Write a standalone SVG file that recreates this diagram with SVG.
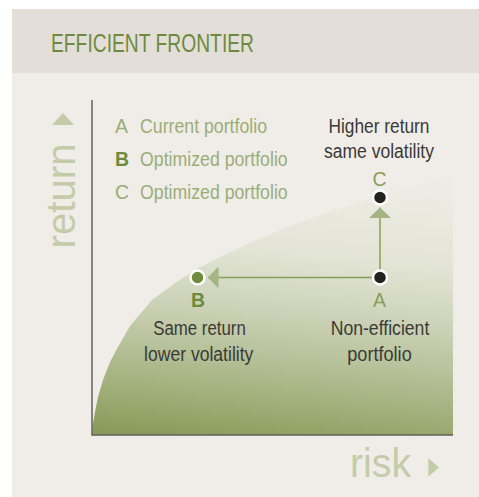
<svg xmlns="http://www.w3.org/2000/svg" width="479" height="497" viewBox="0 0 479 497">
  <style>
    .t { font-family: "Liberation Sans", Arial, sans-serif; }
    .head { font-size: 25.5px; fill: #6e8a3e; }
    .leg { font-size: 19.5px; fill: #9aad77; }
    .legb { font-size: 19.5px; fill: #6e8b3d; font-weight: bold; }
    .dark { font-size: 19.5px; fill: #3a3a36; text-anchor: middle; }
    .lab { font-size: 19.5px; fill: #87a059; text-anchor: middle; }
    .labb { font-size: 19.5px; fill: #6e8b3d; font-weight: bold; text-anchor: middle; }
    .axislab { font-size: 41px; fill: #c3cca8; }
    .axis { stroke: #5f6256; stroke-width: 1.5; fill: none; }
    .conn { stroke: #84a056; stroke-width: 1.5; fill: none; marker-end: url(#arrow); }
    .dot { stroke: #ffffff; stroke-width: 2.5; }
  </style>
  <defs>
    <linearGradient id="fill" gradientUnits="userSpaceOnUse" x1="210" y1="440" x2="235" y2="175">
      <stop offset="0" stop-color="#889c5b"/>
      <stop offset="0.15" stop-color="#9fae78"/>
      <stop offset="0.34" stop-color="#b8c29b"/>
      <stop offset="0.53" stop-color="#cfd5bc"/>
      <stop offset="0.72" stop-color="#e2e4d4"/>
      <stop offset="1" stop-color="#edece4"/>
    </linearGradient>
    <marker id="arrow" viewBox="0 0 10.5 22" refX="10.5" refY="11" markerWidth="10.5" markerHeight="22" markerUnits="userSpaceOnUse" orient="auto">
      <path d="M0,0 L10.5,11 L0,22 Z" fill="#a5b482"/>
    </marker>
  </defs>

  <g id="background">
    <rect x="12" y="9" width="467" height="64" fill="#e3dfd8"/>
    <rect x="12" y="73" width="467" height="424" fill="#f0ede8"/>
  </g>

  <g id="title">
    <text class="t head" x="51" y="52" textLength="203" lengthAdjust="spacingAndGlyphs">EFFICIENT FRONTIER</text>
  </g>

  <g id="frontier">
    <path d="M92,435 L92.5,428 L93.5,420 L95,412 L98,397 L103,380 L110,362 L118,347 L130,326 L152,300 L175,283 L195,270 L220,257 L252,242 L290,226 L330,211.5 L378,196.5 L420,183.6 L453,174 L453,435 Z" fill="url(#fill)"/>
  </g>

  <g id="axes">
    <path class="axis" d="M92,100 L92,435 L453,435"/>
    <g id="axis-return">
      <text class="t axislab" transform="translate(75,248.5) rotate(-90)" textLength="105" lengthAdjust="spacingAndGlyphs">return</text>
      <polygon points="52,125 74,125 63,113" fill="#c3cca8"/>
    </g>
    <g id="axis-risk">
      <text class="t axislab" x="350" y="476.7" textLength="61" lengthAdjust="spacingAndGlyphs">risk</text>
      <polygon points="428.3,458.3 428.3,476.7 439,467.5" fill="#c3cca8"/>
    </g>
  </g>

  <g id="legend">
    <text class="t leg" x="115" y="132.5">A</text>
    <text class="t leg" x="140" y="132.5" textLength="127" lengthAdjust="spacingAndGlyphs">Current portfolio</text>
    <text class="t legb" x="115" y="165.7">B</text>
    <text class="t leg" x="140" y="165.7" textLength="147.7" lengthAdjust="spacingAndGlyphs">Optimized portfolio</text>
    <text class="t leg" x="115" y="198.5">C</text>
    <text class="t leg" x="140" y="198.5" textLength="147.7" lengthAdjust="spacingAndGlyphs">Optimized portfolio</text>
  </g>

  <g id="connectors">
    <path class="conn" d="M380,277.5 L208,277.5"/>
    <path class="conn" d="M380,277.5 L380,207.5"/>
  </g>

  <g id="node-C">
    <text class="t dark" x="379" y="133.3" textLength="101" lengthAdjust="spacingAndGlyphs">Higher return</text>
    <text class="t dark" x="379" y="158.3" textLength="110" lengthAdjust="spacingAndGlyphs">same volatility</text>
    <text class="t lab" x="379.5" y="185.7">C</text>
    <circle class="dot" cx="380" cy="197.5" r="7" fill="#222220"/>
  </g>

  <g id="node-A">
    <circle class="dot" cx="380" cy="277.5" r="7" fill="#222220"/>
    <text class="t lab" x="379.5" y="307.3">A</text>
    <text class="t dark" x="380" y="335" textLength="98.7" lengthAdjust="spacingAndGlyphs">Non-efficient</text>
    <text class="t dark" x="379.5" y="361" textLength="64.4" lengthAdjust="spacingAndGlyphs">portfolio</text>
  </g>

  <g id="node-B">
    <circle class="dot" cx="197.5" cy="277.5" r="7" fill="#6e8c3c"/>
    <text class="t labb" x="198" y="307.3">B</text>
    <text class="t dark" x="199.5" y="335" textLength="92.7" lengthAdjust="spacingAndGlyphs">Same return</text>
    <text class="t dark" x="198.7" y="361" textLength="109.3" lengthAdjust="spacingAndGlyphs">lower volatility</text>
  </g>
</svg>
